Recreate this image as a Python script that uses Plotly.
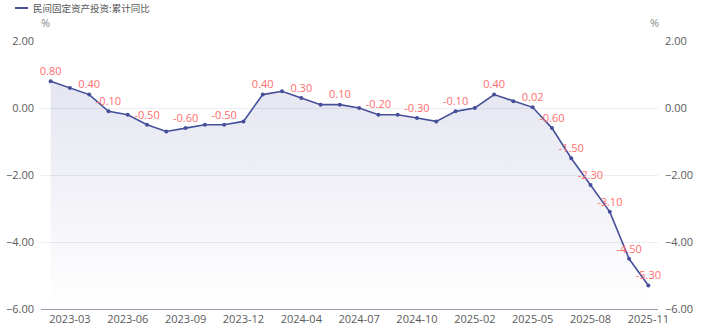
import plotly.graph_objects as go

# Monthly periods (January is merged into February in the cumulative series)
months = [
    "2023-02", "2023-03", "2023-04", "2023-05", "2023-06", "2023-07", "2023-08",
    "2023-09", "2023-10", "2023-11", "2023-12",
    "2024-02", "2024-03", "2024-04", "2024-05", "2024-06", "2024-07", "2024-08",
    "2024-09", "2024-10", "2024-11", "2024-12",
    "2025-02", "2025-03", "2025-04", "2025-05", "2025-06", "2025-07", "2025-08",
    "2025-09", "2025-10", "2025-11",
]
# Private fixed-asset investment, cumulative YoY (%)
yoy = [
    0.8, 0.6, 0.4, -0.1, -0.2, -0.5, -0.7, -0.6, -0.5, -0.5, -0.4,
    0.4, 0.5, 0.3, 0.1, 0.1, 0.0, -0.2, -0.2, -0.3, -0.4, -0.1,
    0.0, 0.4, 0.2, 0.02, -0.6, -1.5, -2.3, -3.1, -4.5, -5.3,
]
# Points that carry a value label
labelled = [0, 2, 3, 5, 7, 9, 11, 13, 15, 17, 19, 21, 23, 25, 26, 27, 28, 29, 30, 31]
x_ticks = months[1::3]
y_ticks = [-6, -4, -2, 0, 2]
y_min, y_max = -6, 2

series_name = "民间固定资产投资:累计同比"
line_color = "#46509a"
label_color = "#ff6e6e"
tick_color = "#5a5a5a"
grid_color = "#ececf2"
num_font = "Open Sans, sans-serif"
cjk_font = "Noto Sans CJK SC, sans-serif"

texts = [f"{v:.2f}" if i in labelled else "" for i, v in enumerate(yoy)]

fig = go.Figure()
# baseline at the bottom of the value axis so the area fills down to it
fig.add_trace(go.Scatter(
    x=months, y=[y_min] * len(months), mode="lines",
    line=dict(width=0, color="rgba(0,0,0,0)"), hoverinfo="skip", showlegend=False,
))
fig.add_trace(go.Scatter(
    x=months, y=yoy, name=series_name,
    mode="lines+markers+text",
    line=dict(color=line_color, width=1.6),
    marker=dict(color=line_color, size=4),
    text=texts, textposition="top center",
    textfont=dict(color=label_color, size=11, family=num_font),
    cliponaxis=False,
    fill="tonexty",
    fillgradient=dict(
        type="vertical", start=y_min, stop=y_max,
        colorscale=[[0, "rgba(70,80,154,0.0)"], [1, "rgba(70,80,154,0.17)"]],
    ),
    showlegend=False,
))
# invisible twin on the right-hand axis
fig.add_trace(go.Scatter(
    x=months, y=yoy, yaxis="y2", mode="lines",
    line=dict(width=0, color="rgba(0,0,0,0)"), hoverinfo="skip", showlegend=False,
))

axis_common = dict(
    range=[y_min, y_max], tickvals=y_ticks, tickformat=".2f",
    showgrid=True, gridcolor=grid_color, gridwidth=1,
    zeroline=False, showline=False, ticks="", automargin=False,
    tickfont=dict(size=11, color=tick_color, family=num_font),
    fixedrange=True,
)

fig.update_layout(
    width=703, height=334,
    margin=dict(l=41, r=45, t=41, b=25),
    paper_bgcolor="white", plot_bgcolor="white",
    xaxis=dict(
        type="category", range=[-0.5, len(months) - 0.5],
        tickmode="array", tickvals=x_ticks, ticktext=x_ticks,
        showgrid=False, zeroline=False, ticks="", automargin=False,
        showline=True, linecolor="#9a9db0", linewidth=1,
        tickfont=dict(size=11, color=tick_color, family=num_font),
    ),
    yaxis=dict(side="left", ticklabelstandoff=6, **axis_common),
    yaxis2=dict(side="right", overlaying="y", ticklabelstandoff=6, **axis_common),
    showlegend=False,
    shapes=[dict(
        type="line", xref="paper", yref="paper",
        x0=-26 / 617, x1=-13 / 617, y0=1 + 33 / 268, y1=1 + 33 / 268,
        line=dict(color=line_color, width=2),
    )],
    annotations=[
        dict(text=series_name, xref="paper", yref="paper",
             x=-10 / 617, y=1 + 33 / 268, xanchor="left", yanchor="middle",
             showarrow=False, font=dict(size=9.5, color="#555", family=cjk_font)),
        dict(text="%", xref="paper", yref="paper",
             x=4 / 617, y=1 + 18 / 268, xanchor="center", yanchor="middle",
             showarrow=False, font=dict(size=11, color="#888", family=num_font)),
        dict(text="%", xref="paper", yref="paper",
             x=1 - 4 / 617, y=1 + 18 / 268, xanchor="center", yanchor="middle",
             showarrow=False, font=dict(size=11, color="#888", family=num_font)),
    ],
)

fig.write_html("out.html")
